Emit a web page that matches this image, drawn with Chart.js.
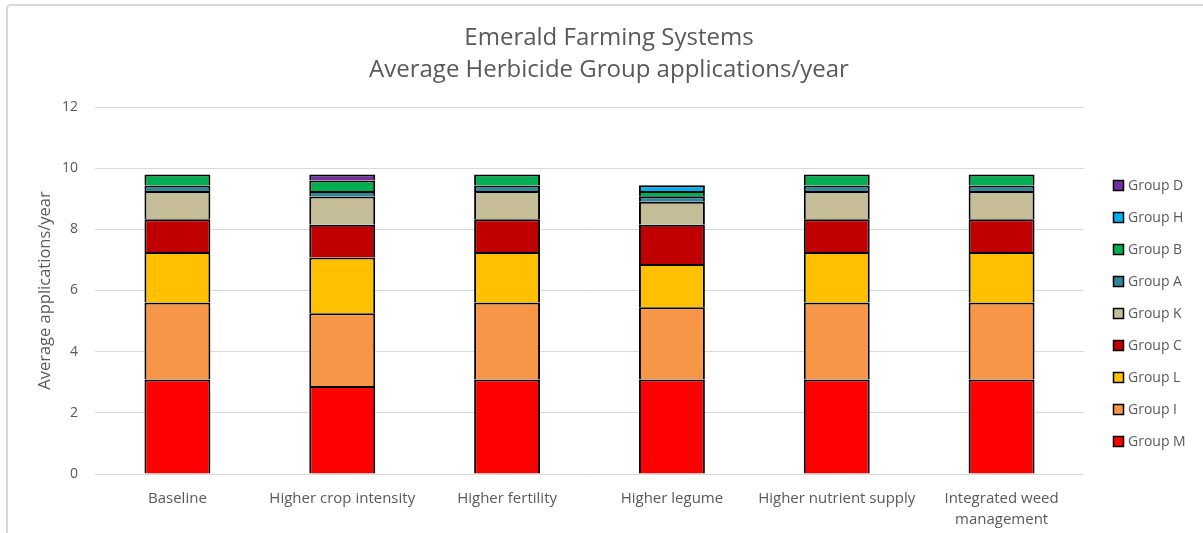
<!DOCTYPE html>
<html>
<head>
<meta charset="utf-8">
<script src="https://cdn.jsdelivr.net/npm/chart.js@4/dist/chart.umd.min.js"></script>
<style>
  html, body { margin: 0; padding: 0; background: #ffffff; }
  #wrap { width: 1203px; height: 533px; }
</style>
</head>
<body>
<div id="wrap"><canvas id="c" width="1203" height="533"></canvas></div>
<script>
// Farming-system scenarios along the x axis
const categories = [
  'Baseline',
  'Higher crop intensity',
  'Higher fertility',
  'Higher legume',
  'Higher nutrient supply',
  ['Integrated weed', 'management']
];

// Average applications per year for each herbicide group
const groupM = [3.09, 2.88, 3.09, 3.09, 3.09, 3.09];
const groupI = [2.52, 2.38, 2.52, 2.36, 2.52, 2.52];
const groupL = [1.65, 1.82, 1.65, 1.42, 1.65, 1.65];
const groupC = [1.07, 1.07, 1.07, 1.28, 1.07, 1.07];
const groupK = [0.92, 0.92, 0.92, 0.75, 0.92, 0.92];
const groupA = [0.18, 0.18, 0.18, 0.18, 0.18, 0.18];
const groupB = [0.36, 0.35, 0.36, 0.17, 0.36, 0.36];
const groupH = [null, null, null, 0.19, null, null];
const groupD = [null, 0.19, null, null, null, null];

// Y axis ticks
const yTicks = [0, 2, 4, 6, 8, 10, 12];

const FONT = "'Open Sans', 'Noto Sans', sans-serif";
const TEXT = '#595959';
const GRID = '#d9d9d9';

function series(label, data, color) {
  return {
    label: label,
    data: data,
    backgroundColor: color,
    borderColor: '#000000',
    borderWidth: 2,
    borderSkipped: 'start',
    categoryPercentage: 0.8,
    barPercentage: 0.5
  };
}

const datasets = [
  series('Group M', groupM, '#FF0000'),
  series('Group I', groupI, '#F79646'),
  series('Group L', groupL, '#FFC000'),
  series('Group C', groupC, '#C00000'),
  series('Group K', groupK, '#C4BD97'),
  series('Group A', groupA, '#31859C'),
  series('Group B', groupB, '#00B050'),
  series('Group H', groupH, '#00B0F0'),
  series('Group D', groupD, '#7030A0')
];

// White background plus the thin frame around the chart
const framePlugin = {
  id: 'frame',
  beforeDraw(chart) {
    const ctx = chart.ctx;
    ctx.save();
    ctx.fillStyle = '#ffffff';
    ctx.fillRect(0, 0, chart.width, chart.height);
    ctx.strokeStyle = GRID;
    ctx.lineWidth = 2;
    ctx.beginPath();
    ctx.moveTo(7, chart.height);
    ctx.lineTo(7, 9);
    ctx.quadraticCurveTo(7, 5, 11, 5);
    ctx.lineTo(chart.width, 5);
    ctx.stroke();
    ctx.restore();
  }
};

// Legend column at the right, top entry = last dataset
const sideLegend = {
  id: 'sideLegend',
  afterDraw(chart) {
    const ctx = chart.ctx;
    const area = chart.chartArea;
    const sets = chart.data.datasets.slice().reverse();
    const step = 32;
    const box = 10;
    const x0 = area.right + 29.5;
    const mid = (area.top + area.bottom) / 2 + 23;
    const y0 = mid - step * (sets.length - 1) / 2;
    ctx.save();
    ctx.font = '14px ' + FONT;
    ctx.textBaseline = 'middle';
    ctx.textAlign = 'left';
    sets.forEach((ds, i) => {
      const cy = y0 + i * step;
      ctx.fillStyle = ds.backgroundColor;
      ctx.fillRect(x0, cy - box / 2, box, box);
      ctx.strokeStyle = '#000000';
      ctx.lineWidth = 1.5;
      ctx.strokeRect(x0, cy - box / 2, box, box);
      ctx.fillStyle = TEXT;
      ctx.fillText(ds.label, x0 + box + 4.5, cy + 0.5);
    });
    ctx.restore();
  }
};

new Chart(document.getElementById('c'), {
  type: 'bar',
  data: { labels: categories, datasets: datasets },
  plugins: [framePlugin, sideLegend],
  options: {
    responsive: false,
    devicePixelRatio: 1,
    animation: false,
    layout: { padding: { left: 15, right: 0, top: 0, bottom: 0 } },
    plugins: {
      legend: { display: false },
      tooltip: { enabled: false },
      title: {
        display: true,
        text: ['Emerald Farming Systems', 'Average Herbicide Group applications/year'],
        color: TEXT,
        font: { family: FONT, size: 24, weight: 'normal', lineHeight: 32 / 24 },
        padding: { top: 22, bottom: 21 }
      }
    },
    scales: {
      x: {
        stacked: true,
        grid: { display: false },
        border: { display: false },
        ticks: {
          color: TEXT,
          padding: 6,
          maxRotation: 0,
          autoSkip: false,
          font: { family: FONT, size: 15, lineHeight: 1.4 }
        },
        afterFit(scale) { scale.height = 59; }
      },
      y: {
        stacked: true,
        min: 0,
        max: 12,
        afterBuildTicks(scale) { scale.ticks = yTicks.map(v => ({ value: v })); },
        grid: { color: GRID, lineWidth: 1, drawTicks: false },
        border: { display: false },
        ticks: {
          color: TEXT,
          padding: 17,
          font: { family: FONT, size: 14 }
        },
        title: {
          display: true,
          text: 'Average applications/year',
          color: TEXT,
          font: { family: FONT, size: 16.5, lineHeight: 1.2 },
          padding: { top: 20, bottom: 0 }
        },
        afterFit(scale) { scale.width = 80; }
      },
      legendSpace: {
        position: 'right',
        display: true,
        grid: { display: false },
        border: { display: false },
        ticks: { display: false },
        afterFit(scale) { scale.width = 119; }
      }
    }
  }
});
</script>
</body>
</html>
